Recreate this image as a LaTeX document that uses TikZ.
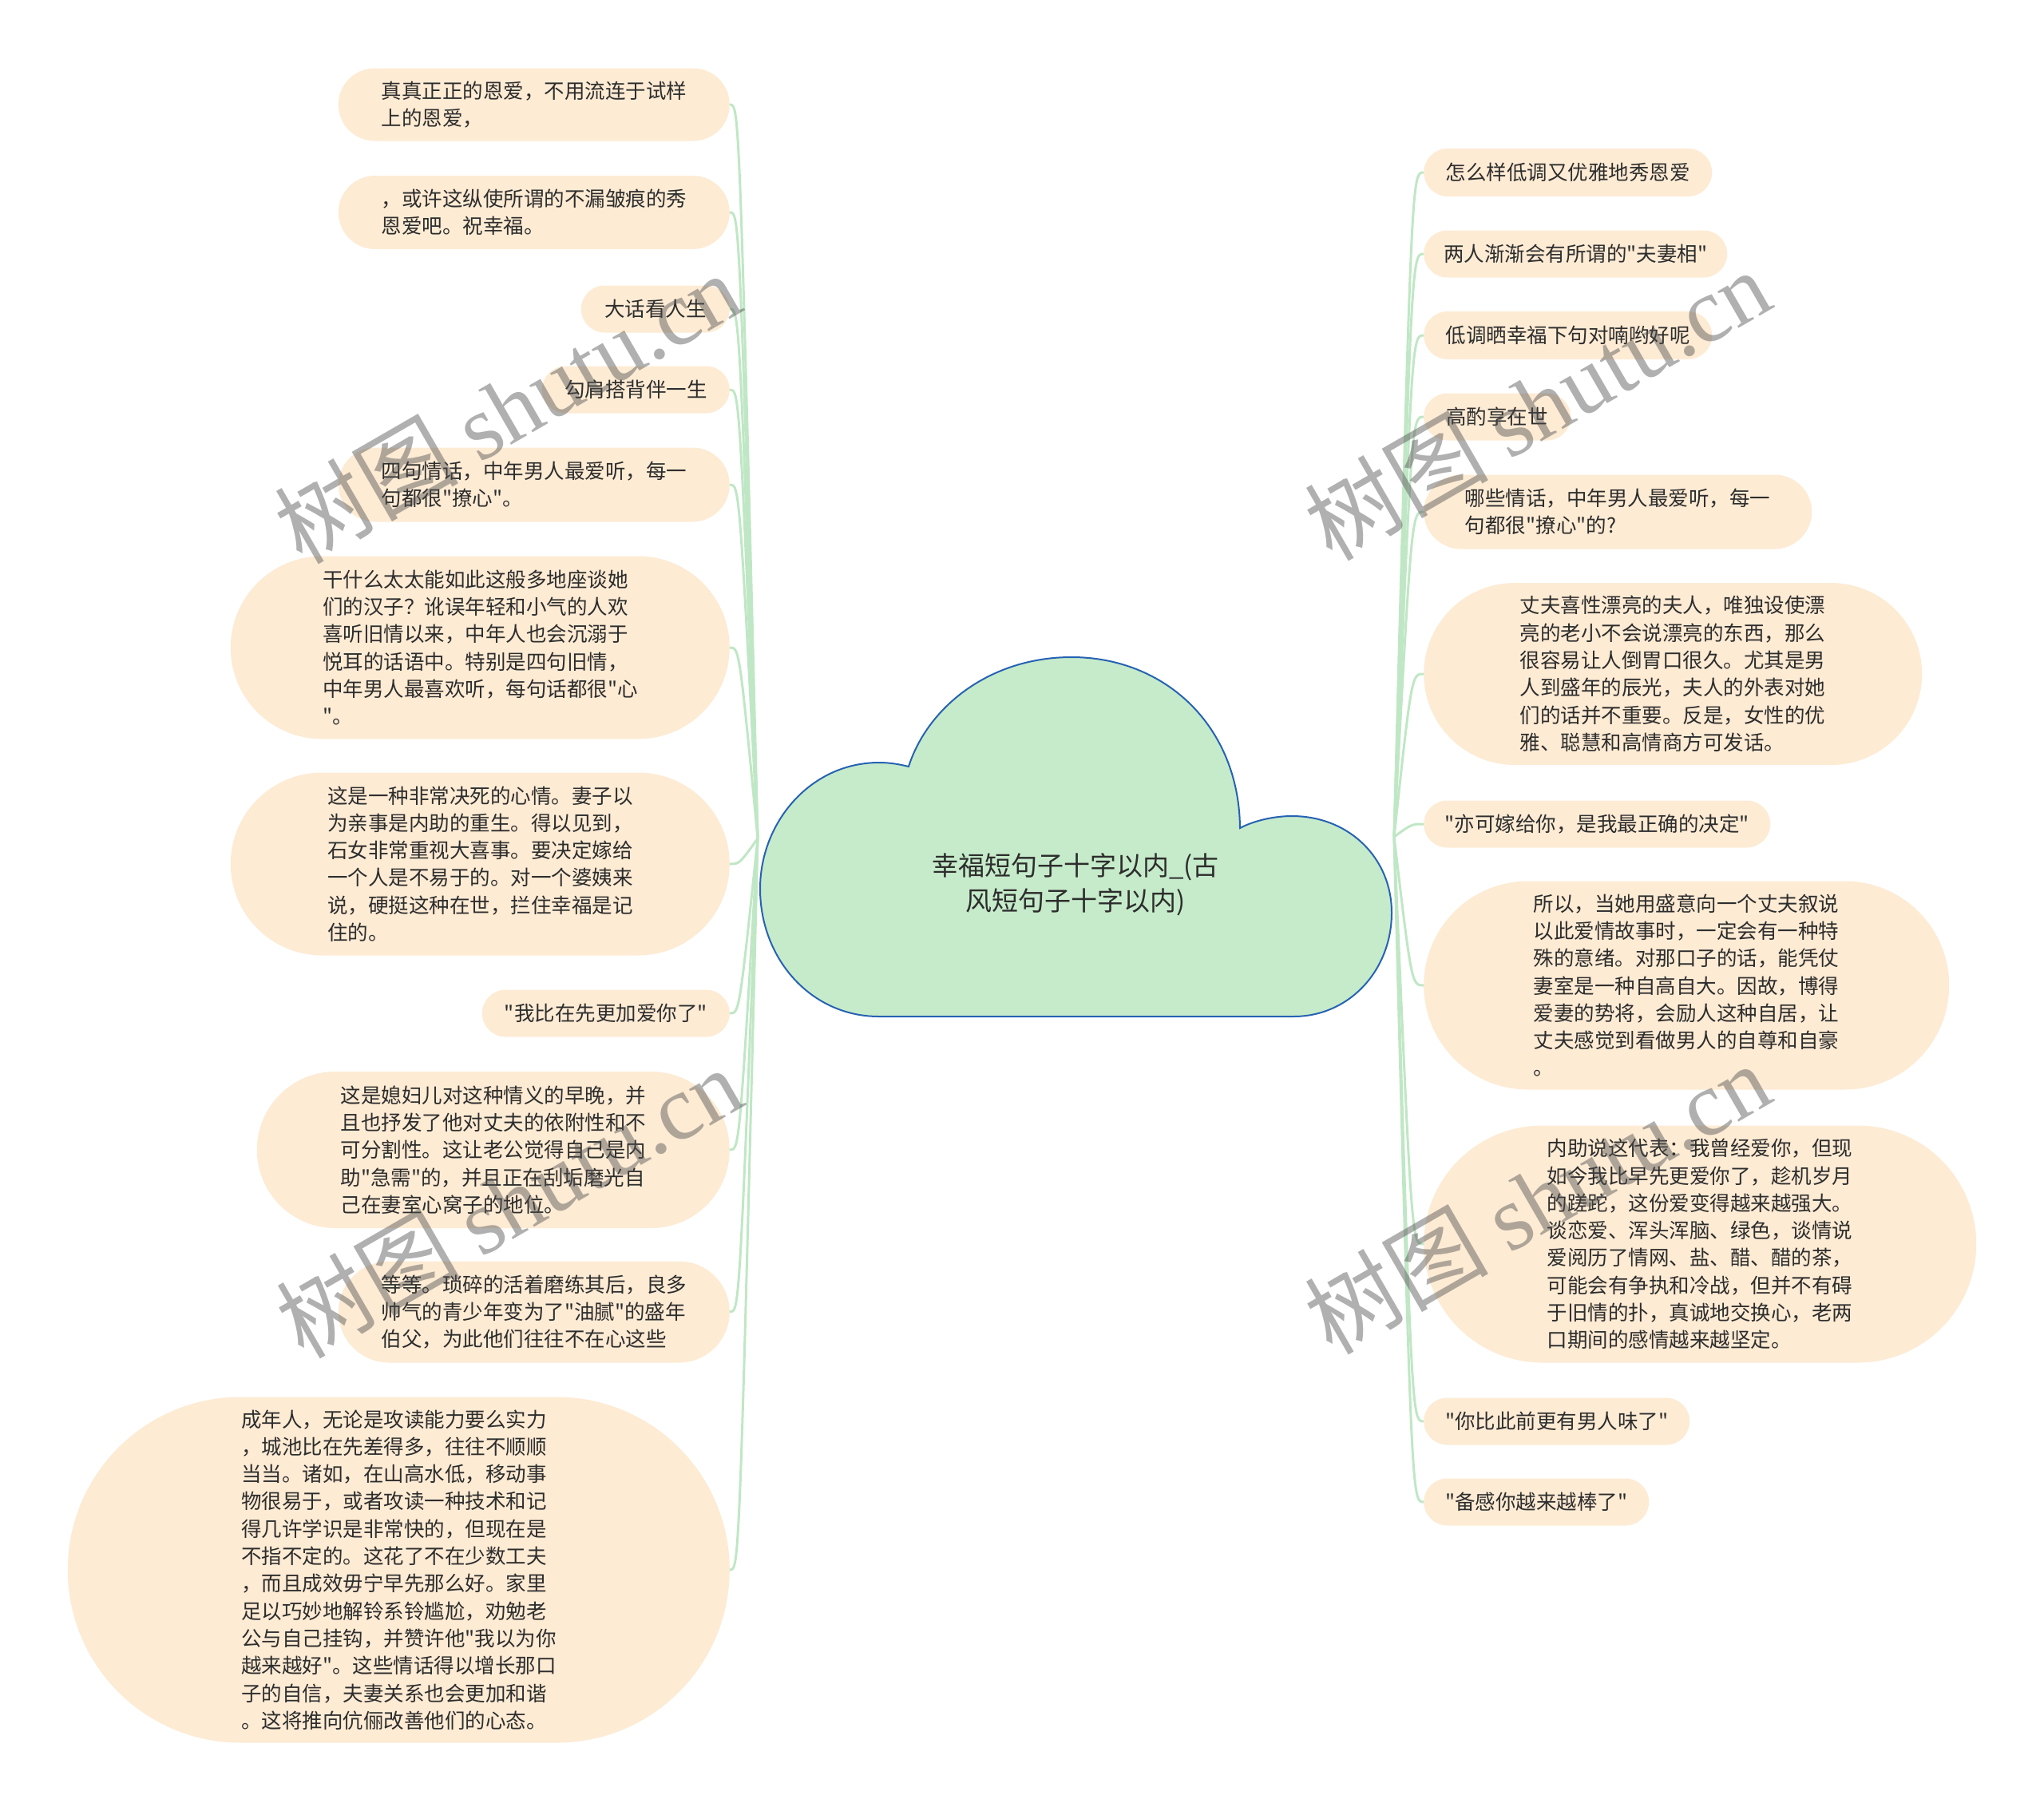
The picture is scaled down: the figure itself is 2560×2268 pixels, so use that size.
\documentclass[tikz,border=0pt]{standalone}
\usepackage{fontspec}
\setmainfont{Noto Sans CJK SC}[Ligatures=TeXOff]
\newfontfamily\stampfont{Liberation Serif}
\usetikzlibrary{shapes.misc}
\definecolor{leafbg}{RGB}{253,235,212}
\definecolor{ink}{RGB}{45,45,45}
\definecolor{linkgreen}{RGB}{192,231,197}
\definecolor{cloudfill}{RGB}{198,235,202}
\definecolor{cloudline}{RGB}{38,98,180}
\definecolor{stampgray}{RGB}{80,80,80}
\newcommand\leaffont{\fontsize{25.5pt}{34.3pt}\selectfont}
\newcommand\rootfont{\fontsize{33pt}{44pt}\selectfont}
\tikzset{
  leaf/.style={rounded rectangle, fill=leafbg, text=ink, align=left, inner sep=0pt, font=\leaffont},
  link/.style={draw=linkgreen, line width=3pt},
  cloudshape/.style={fill=cloudfill, draw=cloudline, line width=2pt},
  stamp/.style={text=stampgray, opacity=0.45, rotate=30, font=\fontsize{115pt}{115pt}\selectfont},
}
\begin{document}
\begin{tikzpicture}[x=1pt, y=-1pt]
      \useasboundingbox (0,0) rectangle (2560,2268);
      \draw[cloudshape] (1101,1273) -- (1620,1273)
        .. controls (1690,1273) and (1743,1215) .. (1743,1143)
        .. controls (1743,1075) and (1690,1022) .. (1618,1022)
        .. controls (1595,1022) and (1570,1028) .. (1553,1037)
        .. controls (1552,910) and (1460,823) .. (1342,823)
        .. controls (1240,823) and (1162,885) .. (1138,960)
        .. controls (1126,957) and (1114,955) .. (1101,955)
        .. controls (1015,955) and (952,1030) .. (952,1113)
        .. controls (952,1200) and (1015,1273) .. (1101,1273) -- cycle;
      \node[font=\rootfont, text=ink, align=center] (root) at (1347,1108) {幸福短句子十字以内\_(古\\风短句子十字以内)};
      \coordinate (rootL) at (949,1050);
      \coordinate (trunkL) at (926,1050);
      \coordinate (rootR) at (1746,1048);
      \coordinate (trunkR) at (1768,1048);

      \node[leaf, anchor=east, minimum width=490, minimum height=91] (L1) at (914,131) {真真正正的恩爱，不用流连于试样\\上的恩爱，};
      \node[leaf, anchor=east, minimum width=490, minimum height=92] (L2) at (914,266) {，或许这纵使所谓的不漏皱痕的秀\\恩爱吧。祝幸福。};
      \node[leaf, anchor=east, minimum width=186, minimum height=59] (L3) at (914,387) {大话看人生};
      \node[leaf, anchor=east, minimum width=235, minimum height=59] (L4) at (914,488) {勾肩搭背伴一生};
      \node[leaf, anchor=east, minimum width=490, minimum height=93] (L5) at (914,607) {四句情话，中年男人最爱听，每一\\句都很"撩心"。};
      \node[leaf, anchor=east, minimum width=625, minimum height=229] (L6) at (914,811) {干什么太太能如此这般多地座谈她\\们的汉子？讹误年轻和小气的人欢\\喜听旧情以来，中年人也会沉溺于\\悦耳的话语中。特别是四句旧情，\\中年男人最喜欢听，每句话都很"心\\"。};
      \node[leaf, anchor=east, minimum width=625, minimum height=229] (L7) at (914,1082) {这是一种非常决死的心情。妻子以\\为亲事是内助的重生。得以见到，\\石女非常重视大喜事。要决定嫁给\\一个人是不易于的。对一个婆姨来\\说，硬挺这种在世，拦住幸福是记\\住的。};
      \node[leaf, anchor=east, minimum width=310, minimum height=59] (L8) at (914,1269) {"我比在先更加爱你了"};
      \node[leaf, anchor=east, minimum width=592, minimum height=196] (L9) at (914,1440) {这是媳妇儿对这种情义的早晚，并\\且也抒发了他对丈夫的依附性和不\\可分割性。这让老公觉得自己是内\\助"急需"的，并且正在刮垢磨光自\\己在妻室心窝子的地位。};
      \node[leaf, anchor=east, minimum width=490, minimum height=127] (L10) at (914,1643) {等等。琐碎的活着磨练其后，良多\\帅气的青少年变为了"油腻"的盛年\\伯父，为此他们往往不在心这些};
      \node[leaf, anchor=east, minimum width=829, minimum height=433] (L11) at (914,1966) {成年人，无论是攻读能力要么实力\\，城池比在先差得多，往往不顺顺\\当当。诸如，在山高水低，移动事\\物很易于，或者攻读一种技术和记\\得几许学识是非常快的，但现在是\\不指不定的。这花了不在少数工夫\\，而且成效毋宁早先那么好。家里\\足以巧妙地解铃系铃尴尬，劝勉老\\公与自己挂钩，并赞许他"我以为你\\越来越好"。这些情话得以增长那口\\子的自信，夫妻关系也会更加和谐\\。这将推向伉俪改善他们的心态。};

      \node[leaf, anchor=west, minimum width=361, minimum height=60] (R1) at (1783,216) {怎么样低调又优雅地秀恩爱};
      \node[leaf, anchor=west, minimum width=380, minimum height=59] (R2) at (1783,318) {两人渐渐会有所谓的"夫妻相"};
      \node[leaf, anchor=west, minimum width=361, minimum height=60] (R3) at (1783,420) {低调晒幸福下句对喃哟好呢};
      \node[leaf, anchor=west, minimum width=184, minimum height=59] (R4) at (1783,522) {高酌享在世};
      \node[leaf, anchor=west, minimum width=486, minimum height=93] (R5) at (1783,641) {哪些情话，中年男人最爱听，每一\\句都很"撩心"的?};
      \node[leaf, anchor=west, minimum width=624, minimum height=228] (R6) at (1783,844) {丈夫喜性漂亮的夫人，唯独设使漂\\亮的老小不会说漂亮的东西，那么\\很容易让人倒胃口很久。尤其是男\\人到盛年的辰光，夫人的外表对她\\们的话并不重要。反是，女性的优\\雅、聪慧和高情商方可发话。};
      \node[leaf, anchor=west, minimum width=434, minimum height=59] (R7) at (1783,1032) {"亦可嫁给你，是我最正确的决定"};
      \node[leaf, anchor=west, minimum width=658, minimum height=261] (R8) at (1783,1234) {所以，当她用盛意向一个丈夫叙说\\以此爱情故事时，一定会有一种特\\殊的意绪。对那口子的话，能凭仗\\妻室是一种自高自大。因故，博得\\爱妻的势将，会励人这种自居，让\\丈夫感觉到看做男人的自尊和自豪\\。};
      \node[leaf, anchor=west, minimum width=692, minimum height=297] (R9) at (1783,1558) {内助说这代表：我曾经爱你，但现\\如今我比早先更爱你了，趁机岁月\\的蹉跎，这份爱变得越来越强大。\\谈恋爱、浑头浑脑、绿色，谈情说\\爱阅历了情网、盐、醋、醋的茶，\\可能会有争执和冷战，但并不有碍\\于旧情的扑，真诚地交换心，老两\\口期间的感情越来越坚定。};
      \node[leaf, anchor=west, minimum width=333, minimum height=59] (R10) at (1783,1780) {"你比此前更有男人味了"};
      \node[leaf, anchor=west, minimum width=282, minimum height=59] (R11) at (1783,1881) {"备感你越来越棒了"};

      \draw[link] (rootL) .. controls (trunkL |- L1.east) .. (L1.east);
      \draw[link] (rootL) .. controls (trunkL |- L2.east) .. (L2.east);
      \draw[link] (rootL) .. controls (trunkL |- L3.east) .. (L3.east);
      \draw[link] (rootL) .. controls (trunkL |- L4.east) .. (L4.east);
      \draw[link] (rootL) .. controls (trunkL |- L5.east) .. (L5.east);
      \draw[link] (rootL) .. controls (trunkL |- L6.east) .. (L6.east);
      \draw[link] (rootL) .. controls (trunkL |- L7.east) .. (L7.east);
      \draw[link] (rootL) .. controls (trunkL |- L8.east) .. (L8.east);
      \draw[link] (rootL) .. controls (trunkL |- L9.east) .. (L9.east);
      \draw[link] (rootL) .. controls (trunkL |- L10.east) .. (L10.east);
      \draw[link] (rootL) .. controls (trunkL |- L11.east) .. (L11.east);
      \draw[link] (rootR) .. controls (trunkR |- R1.west) .. (R1.west);
      \draw[link] (rootR) .. controls (trunkR |- R2.west) .. (R2.west);
      \draw[link] (rootR) .. controls (trunkR |- R3.west) .. (R3.west);
      \draw[link] (rootR) .. controls (trunkR |- R4.west) .. (R4.west);
      \draw[link] (rootR) .. controls (trunkR |- R5.west) .. (R5.west);
      \draw[link] (rootR) .. controls (trunkR |- R6.west) .. (R6.west);
      \draw[link] (rootR) .. controls (trunkR |- R7.west) .. (R7.west);
      \draw[link] (rootR) .. controls (trunkR |- R8.west) .. (R8.west);
      \draw[link] (rootR) .. controls (trunkR |- R9.west) .. (R9.west);
      \draw[link] (rootR) .. controls (trunkR |- R10.west) .. (R10.west);
      \draw[link] (rootR) .. controls (trunkR |- R11.west) .. (R11.west);

      \node[stamp] (wm1) at (635,510) {树图 {\stampfont shutu.cn}};
      \node[stamp] (wm2) at (1925,506) {树图 {\stampfont shutu.cn}};
      \node[stamp] (wm3) at (637,1505) {树图 {\stampfont shutu.cn}};
      \node[stamp] (wm4) at (1925,1500) {树图 {\stampfont shutu.cn}};
\end{tikzpicture}
\end{document}
